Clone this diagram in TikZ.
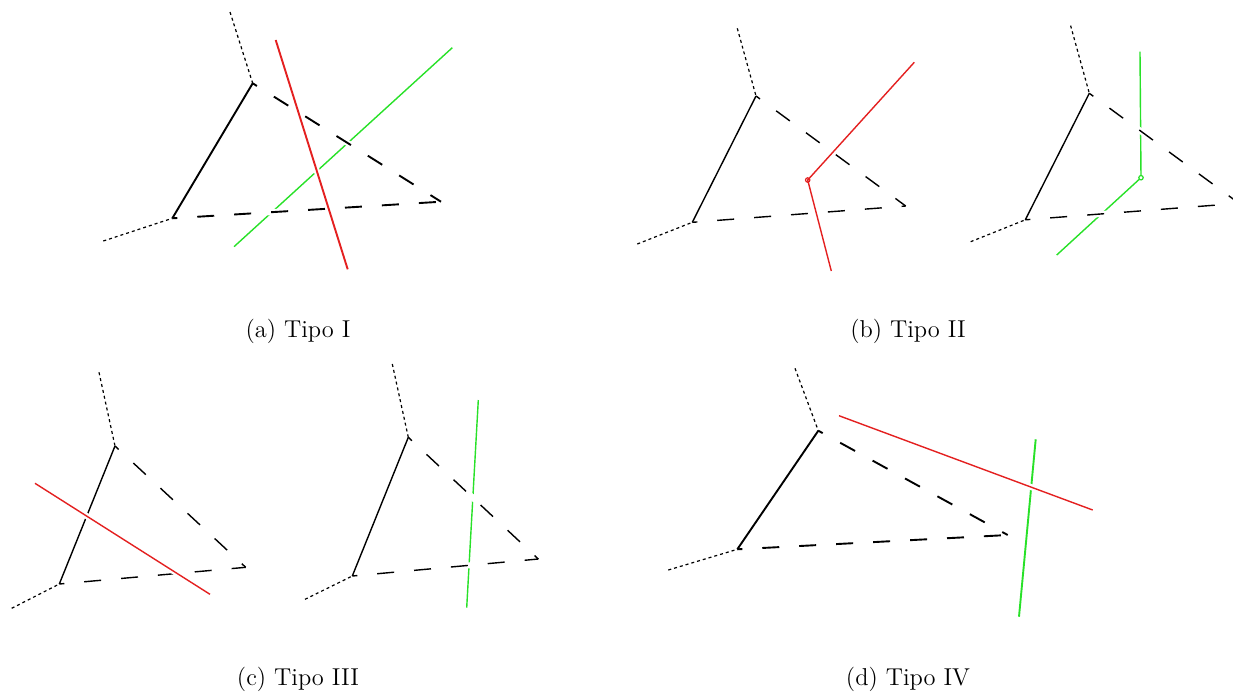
\documentclass[tikz,border=0pt]{standalone}
\definecolor{myred}{RGB}{228,32,32}
\definecolor{mygreen}{RGB}{40,225,40}
\begin{document}
\begin{tikzpicture}[x=0.5pt,y=-0.5pt,
  lw/.style={line width=#1},
  solidedge/.style={black},
  dashedge/.style={black,dash pattern=on 8.5pt off 10pt,dash phase=6pt},
  dotedge/.style={black,line width=0.6pt,dash pattern=on 1.5pt off 1.5pt},
  haloline/.style={draw=white,line width=3pt},
  redline/.style={draw=myred,preaction={draw=white,line width=3pt}},
  greenline/.style={draw=mygreen},
  captext/.style={anchor=base,font=\fontsize{12.2}{14}\selectfont,inner sep=0pt}
]
\useasboundingbox (0,0) rectangle (1233,693);

% ---------- (a) ----------
\begin{scope}[line width=0.95pt]
\coordinate (aA) at (252.7,83.3);
\coordinate (aB) at (172.3,218.3);
\coordinate (aC) at (441,201.7);
\coordinate (aT1) at (230,12);
\coordinate (aT2) at (103.3,241);
\coordinate (aR1) at (275.7,40);
\coordinate (aR2) at (347.7,269.3);
\coordinate (aG1) at (234,246.7);
\coordinate (aG2) at (452.3,47.7);
\draw[greenline,line width=0.7pt] (aG1) -- (aG2);
\draw[haloline] (aA) -- (aC) (aB) -- (aC);
\draw[dashedge] (aA) -- (aC);
\draw[dashedge] (aB) -- (aC);
\draw[solidedge] (aA) -- (aB);
\draw[dotedge] (aT1) -- (aA);
\draw[dotedge] (aT2) -- (aB);
\draw[redline] (aR1) -- (aR2);
\end{scope}
\node[captext] (capa) at (298,337) {(a) Tipo I};

% ---------- (b) left ----------
\begin{scope}[line width=0.7pt]
\coordinate (bA) at (756,96);
\coordinate (bB) at (692.3,222.3);
\coordinate (bC) at (905.7,206);
\coordinate (bT1) at (737.3,28.3);
\coordinate (bT2) at (637.3,244);
\coordinate (bP) at (807.7,180);
\coordinate (bR1) at (914.3,62.3);
\coordinate (bR2) at (831.3,271);
\draw[haloline] (bA) -- (bC) (bB) -- (bC);
\draw[dashedge] (bA) -- (bC);
\draw[dashedge] (bB) -- (bC);
\draw[solidedge] (bA) -- (bB);
\draw[dotedge] (bT1) -- (bA);
\draw[dotedge] (bT2) -- (bB);
\draw[redline] (bR1) -- (bP) -- (bR2);
\draw[myred,line width=0.6pt] (bP) circle[radius=1.1pt];
\end{scope}

% ---------- (b) right ----------
\begin{scope}[line width=0.7pt]
\coordinate (cA) at (1089.3,93.3);
\coordinate (cB) at (1025.3,219.8);
\coordinate (cC) at (1239,203.3);
\coordinate (cT1) at (1070.6,25.6);
\coordinate (cT2) at (970.7,241.7);
\coordinate (cQ) at (1141,177.7);
\coordinate (cG1) at (1140,51.7);
\coordinate (cG2) at (1056.7,255);
\draw[greenline] (cG1) -- (cQ) -- (cG2);
\draw[mygreen,line width=0.6pt,fill=white] (cQ) circle[radius=1.1pt];
\draw[haloline] (cA) -- (cC) (cB) -- (cC);
\draw[dashedge] (cA) -- (cC);
\draw[dashedge] (cB) -- (cC);
\draw[solidedge] (cA) -- (cB);
\draw[dotedge] (cT1) -- (cA);
\draw[dotedge] (cT2) -- (cB);
\end{scope}
\node[captext] (capb) at (908,337) {(b) Tipo II};

% ---------- (c) left ----------
\begin{scope}[line width=0.7pt]
\coordinate (dA) at (115,446);
\coordinate (dB) at (59.3,584);
\coordinate (dC) at (245.7,567.3);
\coordinate (dT1) at (99,372.3);
\coordinate (dT2) at (11.7,608.3);
\coordinate (dR1) at (35,483.3);
\coordinate (dR2) at (210,594.3);
\draw[dashedge] (dA) -- (dC);
\draw[dashedge] (dB) -- (dC);
\draw[solidedge] (dA) -- (dB);
\draw[dotedge] (dT1) -- (dA);
\draw[dotedge] (dT2) -- (dB);
\draw[redline] (dR1) -- (dR2);
\end{scope}

% ---------- (c) right ----------
\begin{scope}[line width=0.7pt]
\coordinate (eA) at (408.3,437.3);
\coordinate (eB) at (352.3,576);
\coordinate (eC) at (538.3,559);
\coordinate (eT1) at (392.3,364);
\coordinate (eT2) at (305,599.3);
\coordinate (eG1) at (478.3,400);
\coordinate (eG2) at (466.7,607.7);
\draw[greenline] (eG1) -- (eG2);
\draw[haloline] (eA) -- (eC) (eB) -- (eC);
\draw[dashedge] (eA) -- (eC);
\draw[dashedge] (eB) -- (eC);
\draw[solidedge] (eA) -- (eB);
\draw[dotedge] (eT1) -- (eA);
\draw[dotedge] (eT2) -- (eB);
\end{scope}
\node[captext] (capc) at (298,685) {(c) Tipo III};

% ---------- (d) ----------
\begin{scope}[line width=0.95pt]
\coordinate (fA) at (818.3,430.7);
\coordinate (fB) at (737.3,549.3);
\coordinate (fC) at (1007.7,535);
\coordinate (fT1) at (795,368.3);
\coordinate (fT2) at (668.3,570);
\coordinate (fR1) at (839,415.7);
\coordinate (fR2) at (1092.7,510);
\coordinate (fG1) at (1035.7,439.3);
\coordinate (fG2) at (1019,616.7);
\draw[greenline] (fG1) -- (fG2);
\draw[dashedge] (fA) -- (fC);
\draw[dashedge] (fB) -- (fC);
\draw[solidedge] (fA) -- (fB);
\draw[dotedge] (fT1) -- (fA);
\draw[dotedge] (fT2) -- (fB);
\draw[redline,line width=0.7pt] (fR1) -- (fR2);
\end{scope}
\node[captext] (capd) at (908,685) {(d) Tipo IV};
\end{tikzpicture}
\end{document}
